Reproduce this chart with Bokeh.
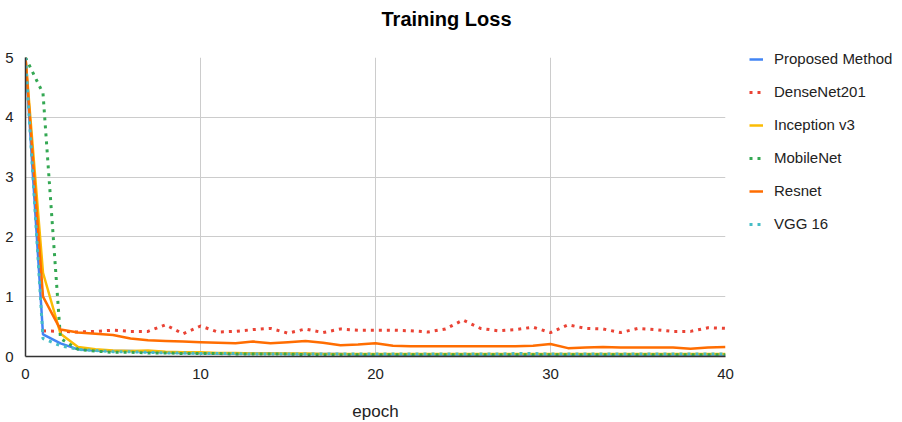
import numpy as np
from bokeh.plotting import figure
from bokeh.models import Legend, LegendItem, FixedTicker, Title
from bokeh.embed import file_html
from bokeh.resources import INLINE

epochs = list(range(41))
nan = float("nan")
proposed = [5.0, 0.37, 0.22, 0.12, 0.10, 0.09, 0.09, 0.08, 0.07, 0.06, 0.06, 0.05, 0.05, 0.05, 0.05, 0.04,
            0.04, 0.04, 0.04, 0.03, 0.03, 0.03, 0.03, 0.03, 0.03, 0.03, 0.02, 0.02, 0.02, 0.02, 0.02,
            0.02, 0.02, 0.02, 0.02, 0.02, 0.02, 0.02, 0.02, 0.02, 0.02]
densenet = [nan, 0.43, 0.42, 0.41, 0.42, 0.44, 0.42, 0.42, 0.53, 0.38, 0.51, 0.41, 0.42, 0.45, 0.47, 0.39,
            0.46, 0.40, 0.46, 0.44, 0.44, 0.44, 0.43, 0.41, 0.46, 0.61, 0.47, 0.43, 0.45, 0.49, 0.40,
            0.53, 0.47, 0.46, 0.40, 0.47, 0.45, 0.42, 0.42, 0.48, 0.47]
inception = [5.0, 1.40, 0.38, 0.16, 0.12, 0.10, 0.09, 0.10, 0.08, 0.07, 0.07, 0.06, 0.06, 0.05, 0.05, 0.05,
             0.05, 0.04, 0.04, 0.04, 0.04, 0.04, 0.04, 0.04, 0.04, 0.04, 0.04, 0.04, 0.04, 0.04, 0.04,
             0.04, 0.04, 0.04, 0.04, 0.04, 0.04, 0.04, 0.04, 0.04, 0.04]
mobilenet = [5.0, 4.40, 0.30, 0.12, 0.09, 0.07, 0.07, 0.06, 0.06, 0.05, 0.05, 0.05, 0.04, 0.04, 0.04, 0.04,
             0.03, 0.03, 0.03, 0.03, 0.03, 0.03, 0.03, 0.03, 0.03, 0.03, 0.03, 0.03, 0.03, 0.03, 0.03,
             0.03, 0.03, 0.03, 0.03, 0.03, 0.03, 0.03, 0.03, 0.03, 0.03]
resnet = [5.0, 1.00, 0.45, 0.40, 0.38, 0.36, 0.30, 0.27, 0.26, 0.25, 0.24, 0.23, 0.22, 0.25, 0.22, 0.24,
          0.26, 0.23, 0.19, 0.20, 0.22, 0.18, 0.17, 0.17, 0.17, 0.17, 0.17, 0.17, 0.17, 0.18, 0.21,
          0.14, 0.15, 0.16, 0.15, 0.15, 0.15, 0.15, 0.13, 0.15, 0.16]
vgg16 = [5.0, 0.30, 0.18, 0.12, 0.10, 0.08, 0.08, 0.07, 0.06, 0.06, 0.05, 0.05, 0.05, 0.04, 0.04, 0.04,
         0.04, 0.04, 0.04, 0.04, 0.04, 0.04, 0.04, 0.04, 0.04, 0.04, 0.04, 0.04, 0.05, 0.05, 0.04,
         0.04, 0.04, 0.04, 0.04, 0.04, 0.04, 0.04, 0.04, 0.04, 0.04]

series = [
    ("Proposed Method", proposed, "#4285F4", "solid"),
    ("DenseNet201", densenet, "#EA4335", "dotted"),
    ("Inception v3", inception, "#FBBC04", "solid"),
    ("MobileNet", mobilenet, "#34A853", "dotted"),
    ("Resnet", resnet, "#FF6D01", "solid"),
    ("VGG 16", vgg16, "#46BDC6", "dotted"),
]

FONT = "Liberation Sans"
FW, FH = 700, 299
p = figure(frame_width=FW, frame_height=FH, output_backend="svg", toolbar_location=None,
           x_range=(0, 40), y_range=(0, 5), title=None,
           min_border_left=25, min_border_right=0, min_border_top=57, min_border_bottom=0)
p.outline_line_color = None

items = []
for name, vals, color, style in series:
    if style == "solid":
        r = p.line(epochs, vals, line_color=color, line_width=2.5)
    else:
        r = p.line(epochs, vals, line_color=color, line_width=3, line_dash="3 5")
    items.append(LegendItem(label=name, renderers=[r]))

n = len(items)
leg_h = n * 14 + (n - 1) * 16
legend = Legend(items=items, location=(24, FH - leg_h - 11), orientation="vertical",
                label_text_font=FONT, label_text_font_size="15px", label_text_color="#222222",
                glyph_width=14, glyph_height=14, label_height=14, spacing=16,
                label_standoff=11, padding=0, margin=0, border_line_color=None,
                background_fill_alpha=0)
p.add_layout(legend, "right")

spacer = Title(text=" ", text_font=FONT, text_font_size="14px", standoff=10)
p.add_layout(spacer, "above")
main_title = Title(text="Training Loss", text_font=FONT, text_font_size="20px",
                   text_font_style="bold", text_color="#000000", align="left",
                   offset=356, standoff=0)
p.add_layout(main_title, "above")

p.xaxis.ticker = FixedTicker(ticks=[0, 10, 20, 30, 40])
p.yaxis.ticker = FixedTicker(ticks=[0, 1, 2, 3, 4, 5])
for ax in (p.xaxis[0], p.yaxis[0]):
    ax.major_label_text_font = FONT
    ax.major_label_text_font_size = "15px"
    ax.major_label_text_color = "#222222"
    ax.major_tick_line_color = None
    ax.minor_tick_line_color = None
    ax.axis_line_color = "#333333"
    ax.axis_line_width = 1.5
p.xaxis.major_label_standoff = 6
p.yaxis.major_label_standoff = 6
p.xaxis.axis_label = "epoch"
p.xaxis.axis_label_text_font = FONT
p.xaxis.axis_label_text_font_size = "17px"
p.xaxis.axis_label_text_font_style = "normal"
p.xaxis.axis_label_text_color = "#222222"
p.xaxis.axis_label_standoff = 20

p.xgrid.grid_line_color = "#cccccc"
p.ygrid.grid_line_color = "#cccccc"

open("out.html", "w").write(file_html(p, INLINE))
